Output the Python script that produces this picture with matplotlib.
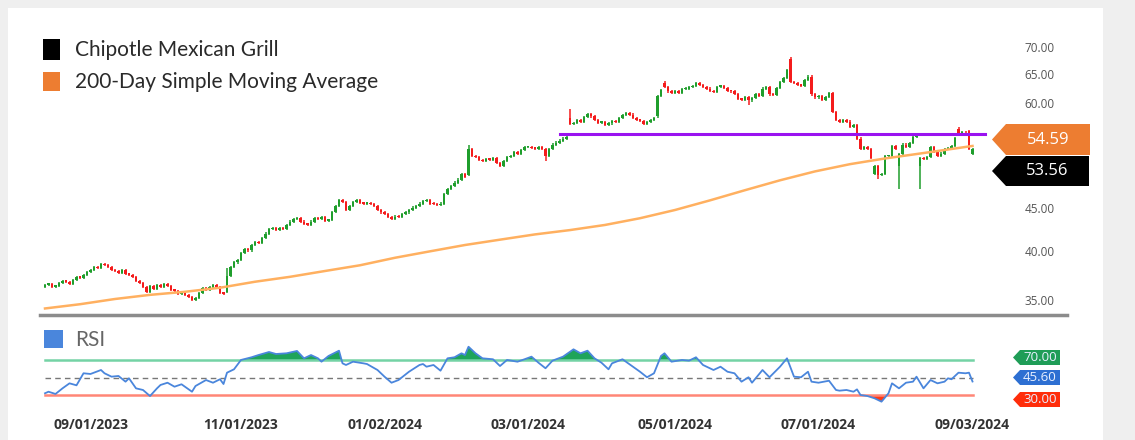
import numpy as np
import matplotlib.pyplot as plt
from matplotlib.patches import Polygon, Rectangle
from matplotlib.lines import Line2D
from matplotlib.ticker import FixedLocator, FormatStrFormatter, NullLocator

W, H = 1135, 440

# daily closes, Aug 15 2023 .. Sep 03 2024 (trading days)
closes = [
    36.5, 36.6, 36.3, 36.4, 36.7, 36.9, 36.8, 36.6, 37.0, 37.3,
    37.2, 37.5, 37.8, 38.0, 38.3, 38.2, 38.6, 38.5, 38.3, 38.0,
    37.9, 37.7, 38.0, 37.6, 37.5, 37.3, 36.9, 36.7, 36.3, 35.8,
    36.4, 36.1, 36.5, 36.3, 36.6, 36.4, 36.0, 35.9, 35.6, 35.8,
    35.5, 35.3, 35.0, 35.2, 35.7, 36.2, 36.0, 36.3, 36.5, 36.3,
    35.7, 35.6, 37.4, 38.3, 38.8, 39.1, 39.8, 40.3, 40.1, 40.7,
    41.0, 40.9, 41.5, 42.0, 42.5, 42.6, 42.4, 42.6, 42.5, 43.0,
    43.4, 43.7, 43.8, 43.4, 43.1, 43.0, 43.4, 43.8, 43.7, 43.9,
    43.5, 43.6, 44.6, 45.3, 46.0, 45.8, 44.8, 45.3, 45.8, 46.0,
    45.7, 45.6, 45.7, 45.5, 45.3, 44.8, 44.5, 44.3, 43.9, 43.7,
    44.0, 43.9, 44.3, 44.5, 44.8, 45.1, 45.3, 45.6, 45.9, 46.0,
    45.6, 45.5, 45.4, 45.6, 46.8, 47.5, 47.8, 48.3, 48.7, 49.4,
    49.0, 52.9, 52.0, 51.8, 51.4, 51.2, 51.5, 51.4, 51.7, 51.0,
    50.5, 51.2, 51.8, 52.0, 52.5, 52.3, 52.8, 53.2, 53.3, 53.1,
    53.0, 53.3, 52.9, 52.0, 53.0, 53.6, 53.9, 54.2, 54.5, 54.8,
    56.7, 56.9, 57.3, 57.0, 57.8, 58.3, 57.9, 57.3, 56.9, 57.0,
    56.6, 56.8, 57.2, 57.0, 57.7, 58.1, 58.5, 58.2, 57.6, 57.3,
    57.2, 56.7, 57.0, 57.4, 57.6, 61.2, 62.3, 62.7, 62.0, 61.8,
    62.1, 61.7, 62.4, 62.5, 62.7, 63.0, 63.4, 63.1, 62.7, 62.5,
    62.1, 61.9, 62.8, 63.0, 62.6, 62.1, 62.0, 61.6, 60.8, 60.6,
    61.1, 60.5, 60.9, 61.6, 61.3, 62.5, 62.8, 61.5, 61.4, 62.6,
    63.7, 64.4, 65.8, 63.6, 63.4, 63.1, 63.0, 64.0, 64.6, 61.5,
    61.0, 61.3, 60.6, 61.1, 61.8, 58.6, 57.3, 57.0, 57.3, 57.1,
    56.2, 56.5, 54.5, 53.0, 53.3, 52.9, 51.7, 50.5, 49.3, 49.5,
    51.9, 52.0, 53.4, 52.9, 52.2, 53.6, 53.3, 53.8, 54.8, 55.1,
    51.6, 51.5, 51.8, 53.3, 52.5, 51.9, 52.3, 52.9, 53.1, 53.4,
    54.6, 55.2, 55.4, 55.0, 52.9, 53.0,
]
# opens that differ from the previous close (gaps)
gap_open = {0: 36.3, 52: 35.8, 121: 49.3, 150: 57.7, 175: 57.9, 177: 63.4,
            213: 67.7, 237: 49.4, 244: 50.6, 250: 50.5, 261: 55.9, 264: 55.6,
            265: 52.3}
highs = {52: 38.2, 121: 53.6, 150: 59.1, 177: 63.8, 213: 68.2, 261: 56.3}
lows = {143: 51.2, 201: 59.8, 238: 48.8, 244: 47.5, 250: 47.5}

sma_day = [0, 10, 20, 30, 40, 50, 60, 70, 80, 90, 100, 110, 120, 130,
           140, 150, 160, 170, 180, 190, 200, 210, 220, 230, 240, 250, 265]
sma_val = [34.2, 34.6, 35.1, 35.5, 35.8, 36.2, 36.8, 37.3, 37.9, 38.5,
           39.3, 40.0, 40.7, 41.3, 41.9, 42.4, 43.0, 43.8, 44.8, 46.0,
           47.3, 48.6, 49.8, 50.8, 51.6, 52.3, 53.4]

rsi_day = [0, 1, 3, 5, 7, 9, 11, 13, 16, 17, 19, 21, 23, 24, 26, 28, 30, 32,
           33, 35, 37, 39, 42, 43, 46, 48, 50, 51, 52, 54, 56, 59, 61, 64, 66,
           69, 72, 74, 76, 78, 79, 81, 84, 85, 86, 88, 91, 92, 95, 97, 99, 101,
           104, 107, 108, 109, 111, 113, 115, 117, 119, 120, 121, 123, 125,
           128, 130, 132, 135, 137, 139, 141, 143, 145, 148, 151, 153, 155,
           157, 159, 161, 162, 165, 168, 170, 172, 174, 176, 177, 179, 182,
           184, 186, 188, 191, 193, 195, 197, 199, 201, 202, 205, 207, 210,
           212, 214, 216, 218, 219, 221, 224, 226, 227, 229, 231, 232, 233,
           235, 237, 239, 241, 242, 244, 246, 248, 249, 251, 253, 255, 257,
           258, 259, 261, 263, 264, 265]
rsi_val = [32.0, 33.8, 31.2, 37.7, 43.5, 41.2, 55.1, 54.3, 58.9, 55.1, 51.2,
           52.0, 45.4, 49.3, 37.7, 35.8, 28.8, 37.7, 41.6, 44.2, 39.6, 42.4,
           33.8, 40.4, 47.3, 44.2, 48.2, 42.7, 55.8, 59.7, 70.5, 73.6, 76.2,
           79.7, 77.4, 78.2, 80.9, 72.4, 76.2, 72.4, 68.5, 75.1, 81.2, 66.6,
           64.7, 68.5, 66.6, 65.8, 58.9, 51.2, 44.2, 47.3, 56.9, 64.7, 65.8,
           62.7, 64.7, 58.1, 72.4, 73.6, 78.2, 76.2, 85.8, 78.2, 72.4, 71.3,
           63.5, 70.5, 68.5, 71.3, 74.3, 67.3, 60.9, 69.7, 74.3, 82.8, 78.2,
           81.2, 72.4, 67.3, 59.7, 66.6, 71.3, 62.7, 56.9, 50.5, 55.1, 75.1,
           78.2, 68.5, 70.5, 69.7, 73.6, 64.7, 58.9, 62.7, 56.9, 55.1, 45.4,
           50.5, 44.2, 58.9, 50.5, 62.7, 72.4, 51.2, 50.5, 56.9, 45.4, 44.2,
           46.5, 35.8, 35.0, 35.8, 33.8, 36.5, 30.0, 28.8, 26.2, 22.3, 32.0,
           43.5, 37.7, 44.2, 45.4, 51.2, 37.7, 47.3, 43.5, 45.4, 49.3, 48.2,
           55.8, 55.1, 55.8, 45.6]

resist_level = 55.2
resist_from, resist_to = 147, 268.5

date_ticks = [13, 56, 97, 138, 180, 221, 265]
date_labels = ['09/01/2023', '11/01/2023', '01/02/2024', '03/01/2024',
               '05/01/2024', '07/01/2024', '09/03/2024']
price_ticks = [35, 40, 45, 60, 65, 70]
sma_tag = '54.59'
close_tag = '53.56'
rsi_tags = ['70.00', '45.60', '30.00']

GREEN, RED = '#1f9e2c', '#f41c1c'
WICK = 0.003


def fx(x):
    return x / W


def fy(y):
    return 1 - y / H


def tag(fig, x0, x1, yc, h, tip, color, text, fs, tc='white'):
    pts = [(x0, yc), (x0 + tip, yc - h / 2), (x1, yc - h / 2),
           (x1, yc + h / 2), (x0 + tip, yc + h / 2)]
    fig.add_artist(Polygon([(fx(a), fy(b)) for a, b in pts], closed=True,
                           transform=fig.transFigure, facecolor=color,
                           edgecolor='none'))
    fig.text(fx((x0 + tip + x1) / 2), fy(yc), text, color=tc, fontsize=fs,
             family='Open Sans', ha='center', va='center')


fig = plt.figure(figsize=(W / 100, H / 100), dpi=100, facecolor='#efefef')
fig.add_artist(Rectangle((fx(8), 0), fx(1095), fy(8), transform=fig.transFigure,
                         facecolor='white', edgecolor='none', zorder=0))

# price panel
ax = fig.add_axes([fx(40), fy(312), fx(950), (312 - 25) / H])
ax.set_facecolor('none')
days = np.arange(len(closes))
c = np.array(closes)
o = np.array([gap_open.get(i, closes[i - 1]) for i in days])
top = np.maximum(o, c)
bot = np.minimum(o, c)
hi = np.array([highs.get(i, top[i] * (1 + WICK)) for i in days])
lo = np.array([lows.get(i, bot[i] * (1 - WICK)) for i in days])
cols = [GREEN if c[i] >= o[i] else RED for i in days]
ax.vlines(days, lo, hi, colors=cols, linewidth=1.1, zorder=2)
ax.bar(days, np.maximum(top - bot, top * 0.004), bottom=bot, width=0.85,
       color=cols, linewidth=0, zorder=2)
ax.plot(sma_day, sma_val, color='#ffb060', lw=1.8, zorder=3)
ax.plot([resist_from, resist_to], [resist_level, resist_level],
        color='#9a12f0', lw=2.2, zorder=4)

ax.set_yscale('log')
ax.set_ylim(33.87, 74.4)
ax.set_xlim(-1.43, 270.0)
ax.yaxis.set_major_locator(FixedLocator(price_ticks))
ax.yaxis.set_major_formatter(FormatStrFormatter('%.2f'))
ax.yaxis.set_minor_locator(NullLocator())
ax.yaxis.tick_right()
ax.tick_params(axis='y', length=0, pad=25, labelsize=8.5, labelcolor='#555555')
for lbl in ax.get_yticklabels():
    lbl.set_family('Open Sans')
ax.set_xticks([])
for s in ax.spines.values():
    s.set_visible(False)

# RSI panel
rx = fig.add_axes([fx(40), fy(404), fx(950), (404 - 343) / H])
rx.set_facecolor('none')
rx.set_xlim(-1.43, 270.0)
rx.set_ylim(19.6, 90.1)
rd = np.array(rsi_day)
rv = np.array(rsi_val)
rx.fill_between(rd, rv, 70, where=rv > 70, interpolate=True,
                color='#1fa45a', linewidth=0, zorder=1)
rx.fill_between(rd, rv, 30, where=rv < 30, interpolate=True,
                color='#ff3a14', linewidth=0, zorder=1)
rx.plot([0, 265], [70, 70], color='#74d3a5', lw=1.8, zorder=2)
rx.plot([0, 265], [30, 30], color='#ff8676', lw=1.8, zorder=2)
rx.plot([0, 265], [50, 50], color='#777777', lw=1, ls=(0, (4, 3)), zorder=2)
rx.plot(rd, rv, color='#4a86dc', lw=1.3, zorder=3)
rx.set_yticks([])
rx.set_xticks(date_ticks)
rx.set_xticklabels(date_labels, family='Open Sans', fontweight='bold',
                   fontsize=10, color='#333333')
rx.tick_params(axis='x', length=0, pad=10)
for s in rx.spines.values():
    s.set_visible(False)

# separator between panels
fig.add_artist(Line2D([fx(40), fx(1067)], [fy(315), fy(315)], color='#8c8c8c',
                      lw=2.5, transform=fig.transFigure))

# legends
fig.add_artist(Rectangle((fx(43), fy(60)), fx(17), 21 / H, facecolor='black',
                         edgecolor='none', transform=fig.transFigure))
fig.add_artist(Rectangle((fx(43), fy(91)), fx(17), 19 / H, facecolor='#ed7d31',
                         edgecolor='none', transform=fig.transFigure))
fig.text(fx(75), fy(50), 'Chipotle Mexican Grill', fontsize=15, family='Lato',
         color='#2a2a2a', va='center')
fig.text(fx(75), fy(82), '200-Day Simple Moving Average', fontsize=15,
         family='Lato', color='#2a2a2a', va='center')
fig.add_artist(Rectangle((fx(44), fy(348)), fx(19), 18 / H, facecolor='#4a86dc',
                         edgecolor='none', transform=fig.transFigure))
fig.text(fx(75), fy(340), 'RSI', fontsize=15, family='Lato',
         color='#666666', va='center')

# value tags
tag(fig, 992, 1090, 139.5, 31, 14, '#ed7d31', sma_tag, 12)
tag(fig, 992, 1089, 171, 30, 14, '#000000', close_tag, 12)
for txt, yc, col in zip(rsi_tags, [357.5, 377.5, 399.5],
                        ['#1f9d57', '#2d6fd2', '#ff2d0a']):
    tag(fig, 1013, 1060, yc, 15, 7, col, txt, 9.5, tc='#e8f0ff')

fig.savefig('out.png', dpi=100, facecolor=fig.get_facecolor())
